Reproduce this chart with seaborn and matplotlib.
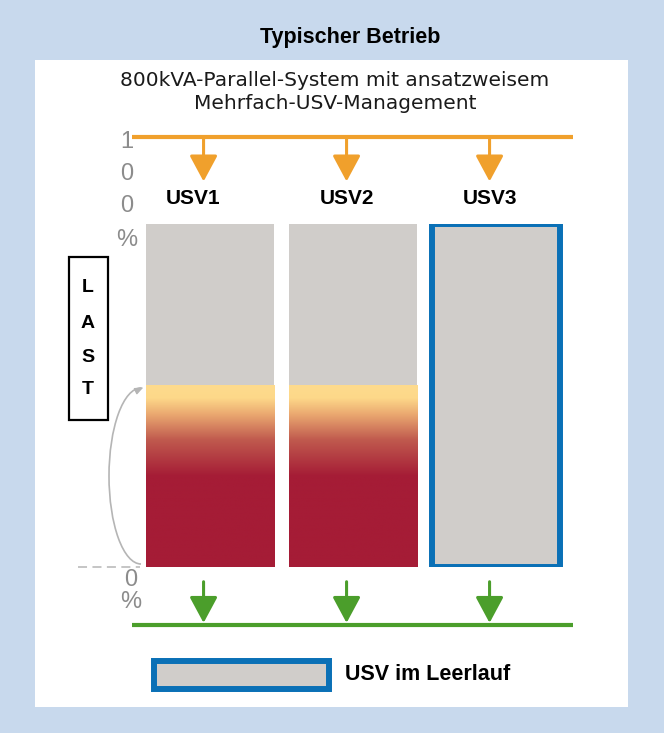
import numpy as np
import matplotlib
matplotlib.use("Agg")
import matplotlib.pyplot as plt
from matplotlib.colors import LinearSegmentedColormap
from matplotlib.patches import Rectangle, Arc
import seaborn as sns

# ==================== DATA ====================
units    = ["USV1", "USV2", "USV3"]
capacity = [100, 100, 100]      # % capacity per UPS
load     = [53, 53, 0]          # % load carried per UPS
idle     = [False, False, True] # UPS in idle mode
top_ticks    = ["1", "0", "0", "%"]
bottom_ticks = ["0", "%"]

TITLE    = "Typischer Betrieb"
SUBTITLE = "800kVA-Parallel-System mit ansatzweisem\nMehrfach-USV-Management"
LEGEND   = "USV im Leerlauf"

# ==================== STYLE ====================
BG     = "#c8d9ed"
GRAY   = "#d0cdca"
BLUE   = "#0a70b6"
ORANGE = "#f0a02c"
GREEN  = "#4b9e2b"
DIGIT  = "#8c8c8c"
W, H   = 664, 733

sns.set_theme(style="white")
plt.rcParams['font.family'] = ['Liberation Sans', 'DejaVu Sans']
plt.rcParams['text.color'] = 'black'

fig = plt.figure(figsize=(W / 100, H / 100), dpi=100, facecolor=BG)

# background axes in pixel coordinates
bg = fig.add_axes([0, 0, 1, 1])
bg.set_xlim(0, W); bg.set_ylim(H, 0); bg.axis("off")
bg.add_patch(Rectangle((35, 60), 593, 647, facecolor="white", edgecolor="none"))
bg.text(350, 37, TITLE, ha="center", va="center", fontsize=15.5, fontweight="bold")
bg.text(335, 92, SUBTITLE, ha="center", va="center", fontsize=14.5,
        family=["DejaVu Sans"], linespacing=1.22, color="#1a1a1a")

# vertical "100%" / "0%" marks
for t, y in zip(top_ticks, [142, 174, 206, 240]):
    bg.text(127, y, t, ha="center", va="center", fontsize=17, color=DIGIT)
for t, y in zip(bottom_ticks, [580, 602]):
    bg.text(131, y, t, ha="center", va="center", fontsize=17, color=DIGIT)

# LAST box
bg.add_patch(Rectangle((69, 257), 39, 163, facecolor="white", edgecolor="black", lw=1.6))
for ch, y in zip("LAST", [287, 323, 358, 390]):
    bg.text(88, y, ch, ha="center", va="center", fontsize=14, fontweight="bold")

# load arc and zero line
bg.add_patch(Arc((141, 476), 64, 176, theta1=90, theta2=270, color="#b5b5b5", lw=1.2))
bg.annotate("", xy=(146, 386), xytext=(138, 390),
            arrowprops=dict(arrowstyle="-|>,head_length=0.5,head_width=0.2",
                            color="#b5b5b5", lw=1, mutation_scale=10))
bg.plot([78, 140], [567, 567], color="#c0c0c0", lw=1.3, ls=(0, (5, 3)))

# legend
bg.add_patch(Rectangle((154, 661), 175, 28, facecolor=GRAY, edgecolor=BLUE, lw=4.3))
bg.text(345, 674, LEGEND, ha="left", va="center", fontsize=15.5, fontweight="bold")

# ==================== BARS ====================
step = 143
left = 138.5
ax = fig.add_axes([left / W, (H - 567) / H, 3 * step / W, (567 - 224) / H])
ax.patch.set_alpha(0)
sns.barplot(x=units, y=capacity, ax=ax, color=GRAY, width=0.9, saturation=1)

for patch, is_idle in zip(ax.patches, idle):
    if is_idle:
        patch.set_edgecolor(BLUE)
        patch.set_linewidth(4.3)
    else:
        patch.set_linewidth(0)

cmap = LinearSegmentedColormap.from_list(
    "load", [(0, "#a51c36"), (0.5, "#a51c36"), (0.7, "#c05a4e"),
             (0.84, "#eaa870"), (0.93, "#fdd889"), (1, "#fedb8d")])
grad = np.linspace(0, 1, 256).reshape(-1, 1)
for i, v in enumerate(load):
    if v > 0:
        ax.imshow(grad, cmap=cmap, origin="lower", aspect="auto",
                  extent=[i - 0.45, i + 0.45, 0, v], zorder=3)

# supply (orange) and output (green) buses with arrows
off = -0.045
ax.plot([-0.545, 2.54], [125.4, 125.4], color=ORANGE, lw=3, clip_on=False, solid_capstyle="butt")
ax.plot([-0.545, 2.54], [-16.9, -16.9], color=GREEN, lw=3, clip_on=False, solid_capstyle="butt")
arrow = dict(arrowstyle="-|>,head_length=0.8,head_width=0.43", lw=2.2,
             mutation_scale=20, shrinkA=0, shrinkB=0)
for i, u in enumerate(units):
    ax.annotate("", xy=(i + off, 112.4), xytext=(i + off, 125.4),
                arrowprops=dict(color=ORANGE, **arrow), annotation_clip=False)
    ax.annotate("", xy=(i + off, -16.3), xytext=(i + off, -4.3),
                arrowprops=dict(color=GREEN, **arrow), annotation_clip=False)
    ax.text(i + off - (0.07 if i == 0 else 0), 107.5, u, ha="center", va="center",
            fontsize=15, fontweight="bold")

ax.set_xlim(-0.5, 2.5)
ax.set_ylim(0, 100)
ax.axis("off")

fig.savefig("out.png", dpi=100, facecolor=BG)
